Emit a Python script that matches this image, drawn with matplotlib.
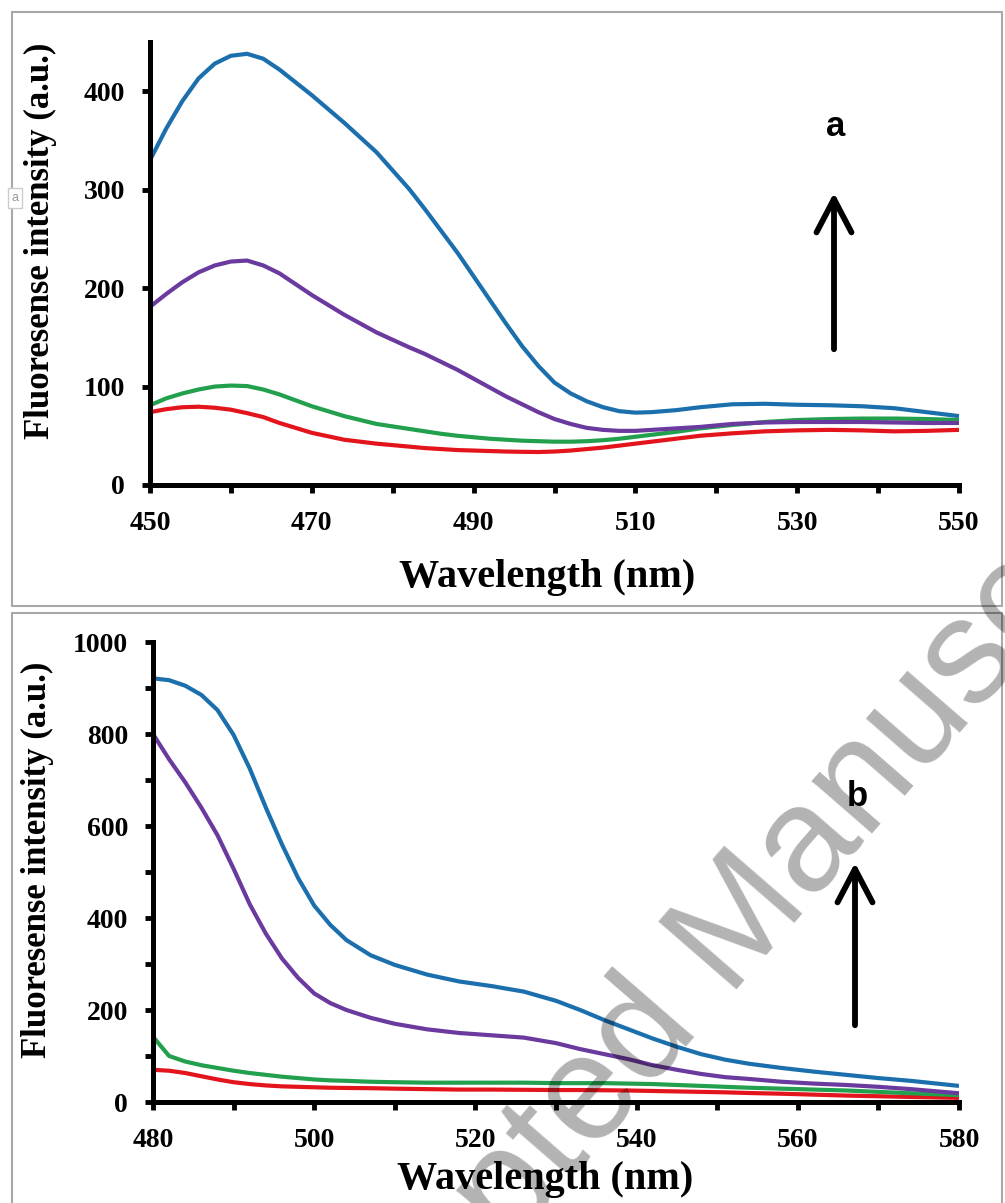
import matplotlib
matplotlib.use("Agg")
import matplotlib.pyplot as plt
from matplotlib.patches import Rectangle, FancyArrowPatch
from matplotlib.ticker import MultipleLocator

plt.rcParams['font.family'] = ['Liberation Serif', 'DejaVu Serif']
plt.rcParams['font.weight'] = 'bold'

# panel a : 450-550 nm
wl_a = [450, 452, 454, 456, 458, 460, 462, 464, 466, 468, 470, 474, 478, 482, 484, 486,
        488, 490, 492, 494, 496, 498, 500, 502, 504, 506, 508, 510, 512, 515, 518, 522,
        526, 530, 534, 538, 542, 546, 550]
blue_a = [330, 362, 390, 413, 428, 436, 438, 433, 422, 409, 396, 368, 338, 301, 280, 258,
          236, 212, 188, 164, 141, 121, 104, 93, 85, 79, 75, 73.5, 74, 76, 79, 82,
          82.5, 81.5, 81, 80, 78, 74, 70]
purple_a = [181, 194, 206, 216, 223, 227, 228, 223, 215, 204, 193, 173, 155, 140, 133, 125,
            117, 108, 99, 90, 82, 74, 67, 62, 58, 56, 55, 55, 56, 57.5, 59, 62,
            63.5, 64, 64, 64, 63.5, 63, 63]
green_a = [81, 88, 93, 97, 100, 101, 100.5, 97, 92, 86, 80, 70, 62, 57, 54.5, 52,
           50, 48.5, 47, 46, 45, 44.5, 44, 44, 44.5, 45.5, 47, 49, 51, 54, 57.5, 61,
           64, 66, 67, 67.5, 67.5, 67, 66]
red_a = [74, 77, 79, 79.5, 78.5, 76.5, 73, 69, 63, 58, 53, 46, 42, 39, 37.5, 36.5,
         35.5, 35, 34.5, 34, 33.7, 33.5, 34, 35, 36.5, 38, 40, 42, 44, 47, 50, 52.5,
         54.5, 55.5, 56, 55.5, 54.5, 55, 56]

# panel b : 480-580 nm
wl_b = [480, 482, 484, 486, 488, 490, 492, 494, 496, 498, 500, 502, 504, 507, 510, 514,
        518, 522, 526, 530, 533, 536, 539, 542, 545, 548, 551, 554, 558, 562, 566, 570,
        574, 580]
blue_b = [921, 917, 905, 885, 852, 798, 725, 640, 560, 487, 427, 385, 352, 319, 298, 277,
          262, 252, 240, 220, 200, 178, 158, 138, 120, 104, 92, 83, 74, 66, 59, 52,
          46, 35]
purple_b = [800, 745, 695, 640, 580, 507, 430, 366, 312, 270, 236, 215, 200, 183, 170, 158,
            150, 145, 140, 128, 115, 104, 93, 80, 70, 61, 54, 50, 44, 40, 37, 33,
            28, 19]
green_b = [142, 100, 88, 80, 74, 68, 63, 59, 55, 52, 49, 47, 46, 44, 43, 42,
           42, 42, 42, 41, 41, 41, 40, 39, 37, 35, 33, 31, 29, 27, 25, 22,
           19, 15]
red_b = [70, 68, 63, 56, 49, 43, 39, 36, 34, 33, 32, 31, 30.5, 30, 29, 28,
         27, 27, 26.5, 26, 26, 25.5, 25, 24, 23, 22, 21, 19.5, 18, 16, 14, 12.5,
         11, 9]

colors = ['#e3141c', '#22a04e', '#6b3a9e', '#1c6fad']

W, H = 1005, 1203
fig = plt.figure(figsize=(W / 100, H / 100), dpi=100)


def px(x, y):
    return x / W, 1 - y / H


def setup(ax, xlim, xoff, ylim, ymaj, ymin):
    for s in ['top', 'right']:
        ax.spines[s].set_visible(False)
    for s in ['left', 'bottom']:
        ax.spines[s].set_linewidth(3.6)
    ax.set_xlim(*xlim)
    ax.set_ylim(*ylim)
    ax.xaxis.set_major_locator(MultipleLocator(20, offset=xoff))
    ax.xaxis.set_minor_locator(MultipleLocator(10))
    ax.yaxis.set_major_locator(MultipleLocator(ymaj))
    if ymin:
        ax.yaxis.set_minor_locator(MultipleLocator(ymin))
    ax.tick_params(which='both', direction='out', length=6, width=3.5)
    ax.tick_params(axis='both', which='major', labelsize=20)
    ax.tick_params(axis='x', which='major', pad=13)
    ax.tick_params(axis='y', which='major', pad=12)


# panel borders
fig.patches.append(Rectangle(px(12, 606), 990 / W, 594 / H, transform=fig.transFigure,
                             fill=False, edgecolor='#a8a8a8', lw=1.5))
fig.patches.append(Rectangle(px(12, 1230), 990 / W, 617 / H, transform=fig.transFigure,
                             fill=False, edgecolor='#a8a8a8', lw=1.5))

ax1 = fig.add_axes([150 / W, 1 - 485 / H, 809 / W, 443 / H])
for c, y in zip(colors, [red_a, green_a, purple_a, blue_a]):
    ax1.plot(wl_a, y, color=c, lw=3.0, solid_capstyle='butt', solid_joinstyle='round')
setup(ax1, (450, 550), 10, (0, 450), 100, None)

ax2 = fig.add_axes([153 / W, 1 - 1102 / H, 806 / W, 460 / H])
for c, y in zip(colors, [red_b, green_b, purple_b, blue_b]):
    ax2.plot(wl_b, y, color=c, lw=3.0, solid_capstyle='butt', solid_joinstyle='round')
setup(ax2, (480, 580), 0, (0, 1000), 200, 100)

# axis titles
ylab = 'Fluoresense intensity (a.u.)'
fig.text(*px(40, 241), ylab, rotation=90, ha='center', va='center', fontsize=25)
fig.text(*px(37, 860), ylab, rotation=90, ha='center', va='center', fontsize=25)
fig.text(*px(547, 577), 'Wavelength (nm)', ha='center', va='center', fontsize=29)
fig.text(*px(545, 1180), 'Wavelength (nm)', ha='center', va='center', fontsize=29)

# arrows and panel letters
for xa, y0, y1, lab, yl in [(834, 352, 190, 'a', 127), (855, 1028, 860, 'b', 797)]:
    fig.patches.append(FancyArrowPatch(px(xa, y0), px(xa, y1), transform=fig.transFigure,
                                       arrowstyle='->,head_length=0.8,head_width=0.42',
                                       mutation_scale=30, lw=4.2, color='black'))
    fig.text(*px(xa + 2, yl), lab, ha='center', va='center', fontsize=25,
             family='Liberation Sans', weight='bold')

# small text-box remnant at the left edge
fig.text(*px(15, 198), 'a', ha='center', va='center', fontsize=9, color='#999999',
         family='Liberation Sans', weight='normal',
         bbox=dict(boxstyle='square,pad=0.3', fc='white', ec='#cccccc', lw=1))

# watermark
fig.text(*px(722, 948), 'Accepted Manuscript', rotation=49, rotation_mode='anchor',
         ha='center', va='center', fontsize=108, color='black', alpha=0.3,
         family='Liberation Sans', weight='normal', zorder=20)

fig.savefig('out.png', dpi=100)
